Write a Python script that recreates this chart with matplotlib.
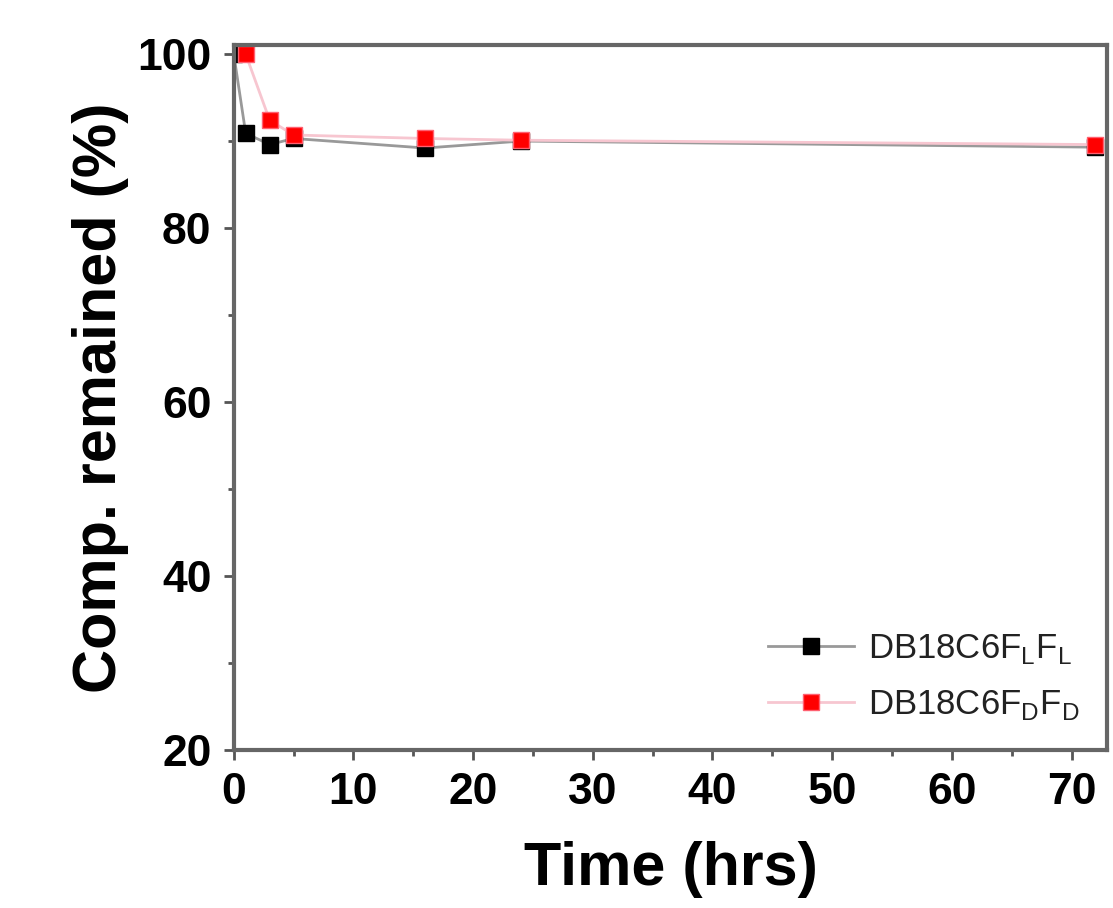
import matplotlib
matplotlib.use("Agg")
import matplotlib.pyplot as plt
from matplotlib.ticker import MultipleLocator

plt.rcParams['font.family'] = ['Liberation Sans', 'DejaVu Sans']

time_L = [0, 1, 3, 5, 16, 24, 72]
comp_L = [100, 90.9, 89.6, 90.3, 89.2, 90.0, 89.3]
time_D = [1, 3, 5, 16, 24, 72]
comp_D = [100, 92.4, 90.7, 90.3, 90.1, 89.6]

fig = plt.figure(figsize=(11.13, 9.08), dpi=100)
ax = fig.add_axes([0.210, 0.174, 0.785, 0.776])

ax.plot(time_L, comp_L, color='#999999', lw=2, marker='s', ms=11,
        mfc='black', mec='black', label=r'DB18C6F$_\mathregular{L}$F$_\mathregular{L}$')
ax.plot(time_D, comp_D, color='#f7c6d0', lw=2, marker='s', ms=11,
        mfc='red', mec='#ff6070', label=r'DB18C6F$_\mathregular{D}$F$_\mathregular{D}$')

ax.set_xlim(0, 73)
ax.set_ylim(20, 101)
ax.xaxis.set_major_locator(MultipleLocator(10))
ax.xaxis.set_minor_locator(MultipleLocator(5))
ax.yaxis.set_major_locator(MultipleLocator(20))
ax.yaxis.set_minor_locator(MultipleLocator(10))
ax.tick_params(which='both', direction='out', color='#555555', width=2, labelsize=32)
ax.tick_params(which='major', length=7)
ax.tick_params(which='minor', length=4)
ax.tick_params(axis='y', pad=9)
ax.tick_params(axis='x', pad=9)
for lab in ax.get_xticklabels() + ax.get_yticklabels():
    lab.set_fontweight('bold')
for s in ax.spines.values():
    s.set_color('#666666')
    s.set_linewidth(3)

ax.set_xlabel('Time (hrs)', fontsize=44, fontweight='bold', labelpad=20)
ax.set_ylabel('Comp. remained (%)', fontsize=44, fontweight='bold', labelpad=6)

leg = ax.legend(loc='lower right', frameon=False, handlelength=2.5,
                borderaxespad=0.4, labelspacing=0.65, handletextpad=0.4,
                prop={'size': 25})
for t in leg.get_texts():
    t.set_color('#222222')

fig.savefig('out.png', dpi=100)
